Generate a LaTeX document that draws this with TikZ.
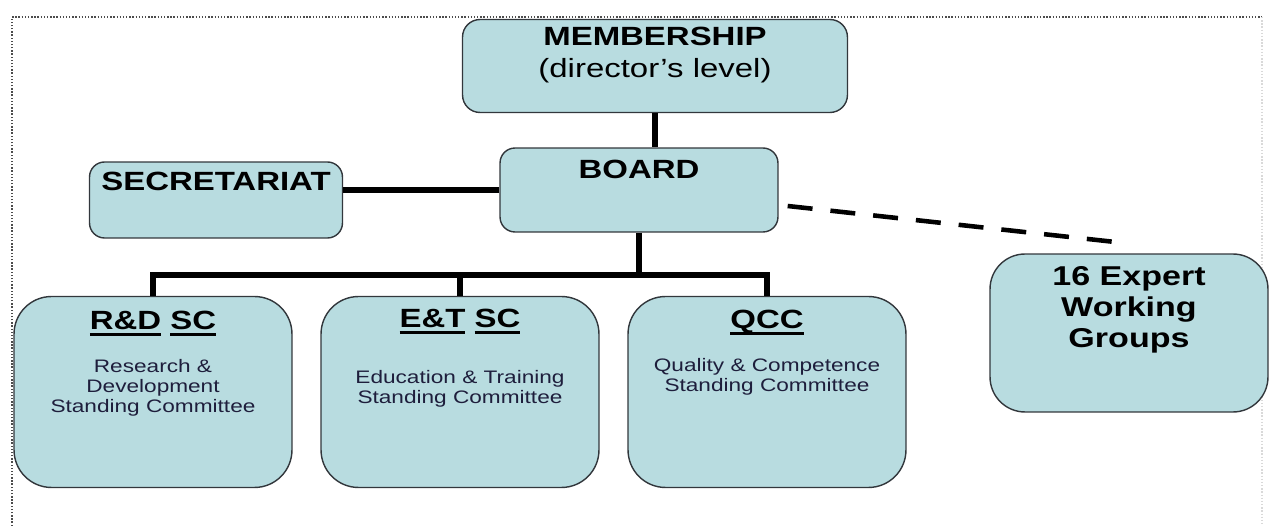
\documentclass[tikz,border=0pt]{standalone}
\usepackage{fontspec}
\newfontfamily\orgfont[FakeStretch=1.25]{Liberation Sans}
\usetikzlibrary{positioning}

\definecolor{boxfill}{RGB}{184,220,224}
\definecolor{boxline}{RGB}{50,55,60}
\definecolor{desctext}{RGB}{30,30,60}
\newcommand{\ulword}[1]{\setbox0\hbox{#1}\rlap{\rule[-3.8pt]{\wd0}{1.6pt}}\box0\relax}

\begin{document}
\begin{tikzpicture}[
		x=0.02cm, y=0.02cm,
		box/.style={draw=boxline, line width=0.8pt, fill=boxfill, rounded corners=#1},
		box/.default=0.3cm,
		cbox/.style={box=0.75cm, minimum width=5.56cm, minimum height=3.82cm},
		head/.style={font=\orgfont\bfseries\fontsize{15}{18}\selectfont, align=center, inner sep=0pt},
		sub/.style={font=\orgfont\bfseries\fontsize{15}{17}\selectfont, align=center, inner sep=0pt},
		desc/.style={font=\orgfont\fontsize{10.3}{11.4}\selectfont, text=desctext, align=center, inner sep=0pt},
		link/.style={line width=3pt},
		dashlink/.style={line width=2.6pt, dash pattern=on 0.5cm off 0.36cm},
		frame/.style={densely dotted, line width=0.8pt, color=black!70},
	]
		\useasboundingbox (0,0) rectangle (1269,-526);
		\draw[frame] (12,-526) -- (12,-17) -- (1262,-17);
		\draw[frame, color=black!15] (1262,-17) -- (1262,-526);

		% boxes
		\node (memb) [box=0.35cm, minimum width=7.7cm, minimum height=1.86cm] at (655,-66) {};
		\node (board) [box, minimum width=5.56cm, minimum height=1.68cm] at (639,-190) {};
		\node (secr) [box, minimum width=5.06cm, minimum height=1.52cm] at (216,-200) {};
		\node (rd) [cbox] at (153,-392) {};
		\node (et) [cbox] at (460,-392) {};
		\node (qcc) [cbox] at (767,-392) {};
		\node (ewg) [box=0.7cm, minimum width=5.56cm, minimum height=3.16cm] at (1129,-333) {};

		% texts
		\node (membt) [head, below=0.16cm of memb.north] {MEMBERSHIP\\\textmd{(director’s level)}};
		\node (boardt) [head, below=0.24cm of board.north] {BOARD};
		\node (secrt) [head, below=0.2cm of secr.north] {SECRETARIAT};
		\node (rdt) [sub, below=0.3cm of rd.north] {\ulword{R\&D} \ulword{SC}};
		\node (ett) [sub, below=0.26cm of et.north] {\ulword{E\&T} \ulword{SC}};
		\node (qcct) [sub, below=0.28cm of qcc.north] {\ulword{QCC}};
		\node (rdd) [desc, below=1.26cm of rd.north] {Research \&\\Development\\Standing Committee};
		\node (etd) [desc, below=1.48cm of et.north] {Education \& Training\\Standing Committee};
		\node (qccd) [desc, below=1.24cm of qcc.north] {Quality \& Competence\\Standing Committee};
		\node (ewgt) [head, font=\orgfont\bfseries\fontsize{15.5}{17.6}\selectfont, below=0.26cm of ewg.north] {16 Expert\\Working\\Groups};

		% connectors
		\coordinate (bus) at (639,-275);
		\draw[link] (memb.south) -- (memb.south |- board.north);
		\draw[link] (board.west) -- (board.west -| secr.east);
		\draw[link] (board.south) -- (bus);
		\draw[link] (rd.north) -- (rd.north |- bus) -- (qcc.north |- bus) -- (qcc.north);
		\draw[link] (et.north) -- (et.north |- bus);
		\draw[dashlink] ([xshift=0.18cm, yshift=-0.32cm]board.east) -- ([xshift=-0.22cm, yshift=0.22cm]ewg.north);
	\end{tikzpicture}
\end{document}
